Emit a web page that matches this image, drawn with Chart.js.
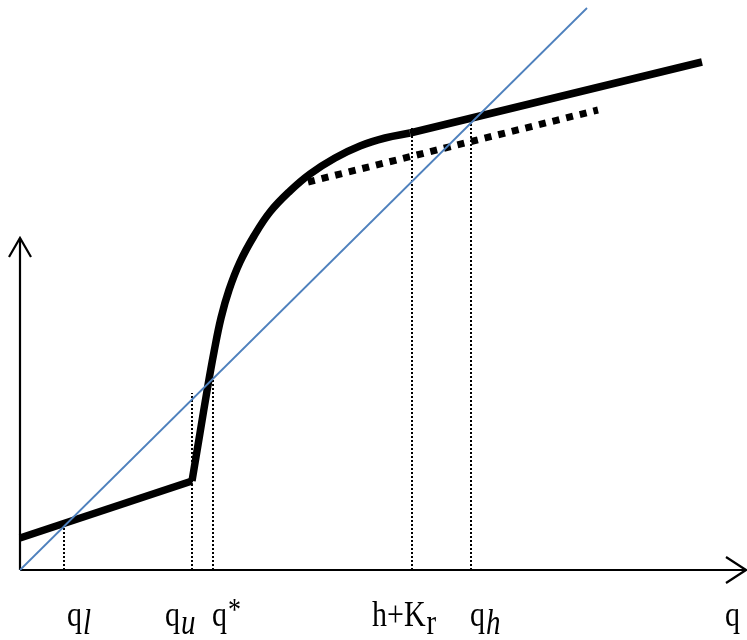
<!DOCTYPE html>
<html lang="en">
<head>
    <meta charset="UTF-8">
    <title>Fixed points diagram</title>
    <script src="https://cdn.jsdelivr.net/npm/chart.js"></script>
    <style>
        body {
            margin: 0;
            padding: 0;
            background-color: #ffffff;
        }
        #chart {
            display: block;
        }
    </style>
</head>
<body>
    <canvas id="chart" width="747" height="640"></canvas>
    <script>
        // axis extents
        const axisX = [0, 727];
        const axisY = [0, 332];

        // 45 degree line
        const diagX = [0, 567];
        const diagY = [0, 562];

        // black curve: low straight part, steep curved part, high straight part
        const lowX = [0, 172];
        const lowY = [32, 89];
        const curveX = [172, 180, 187, 194, 201, 209, 220, 234, 250, 270, 290, 315, 340, 365, 390];
        const curveY = [89, 137, 179, 218, 252, 280, 308, 334, 358, 379, 396, 412, 424, 432, 437];
        const highX = [390, 682];
        const highY = [437, 508];

        // thick dotted line
        const dotX = [288, 578];
        const dotY = [388, 460];

        // thin dotted guides down to the q axis
        const guideX = [44, 172, 193, 392, 451];
        const guideTop = [44, 177, 193, 442, 447];

        // labels under the axis
        const tickText = ['q', 'q', 'q', 'h+K', 'q', 'q'];
        const tickSub = ['l', 'u', '', 'r', 'h', ''];
        const tickSup = ['', '', '*', '', '', ''];
        const tickAt = [47, 145, 192, 352, 450, 705];

        const toPts = (xs, ys) => xs.map((x, i) => ({ x: x, y: ys[i] }));

        const datasets = [];
        datasets.push({
            data: toPts(diagX, diagY),
            borderColor: '#4f81bd',
            borderWidth: 1.8
        });
        guideX.forEach((gx, i) => {
            datasets.push({
                data: [{ x: gx, y: 0 }, { x: gx, y: guideTop[i] }],
                borderColor: '#000',
                borderWidth: 2,
                borderDash: [2, 2]
            });
        });
        datasets.push({
            data: toPts(dotX, dotY),
            borderColor: '#000',
            borderWidth: 7,
            borderDash: [7, 7]
        });
        datasets.push({
            data: toPts(lowX, lowY),
            borderColor: '#000',
            borderWidth: 7.5
        });
        datasets.push({
            data: toPts(curveX, curveY),
            borderColor: '#000',
            borderWidth: 7.5,
            tension: 0.4
        });
        datasets.push({
            data: toPts(highX, highY),
            borderColor: '#000',
            borderWidth: 7.5
        });
        datasets.forEach(d => {
            d.showLine = true;
            d.pointRadius = 0;
            d.clip = false;
            d.borderCapStyle = 'butt';
            d.borderJoinStyle = 'round';
        });

        const axesPlugin = {
            id: 'axes',
            beforeDatasetsDraw(chart) {
                const ctx = chart.ctx;
                const xs = chart.scales.x, ys = chart.scales.y;
                const ox = xs.getPixelForValue(0), oy = ys.getPixelForValue(0);
                const tx = xs.getPixelForValue(axisX[1]);
                const ty = ys.getPixelForValue(axisY[1]);
                ctx.save();
                ctx.strokeStyle = '#000';
                ctx.lineWidth = 2.2;
                ctx.beginPath();
                ctx.moveTo(ox, oy);
                ctx.lineTo(tx - 1, oy);
                ctx.moveTo(ox, oy);
                ctx.lineTo(ox, ty);
                ctx.stroke();
                ctx.beginPath();
                ctx.moveTo(tx - 21, oy - 13);
                ctx.lineTo(tx - 1, oy);
                ctx.lineTo(tx - 21, oy + 13);
                ctx.moveTo(ox - 11, ty + 19);
                ctx.lineTo(ox, ty);
                ctx.lineTo(ox + 11, ty + 19);
                ctx.stroke();
                ctx.restore();
            },
            afterDraw(chart) {
                const ctx = chart.ctx;
                const xs = chart.scales.x;
                const base = 626;
                ctx.save();
                ctx.fillStyle = '#000';
                ctx.textBaseline = 'alphabetic';
                tickText.forEach((t, i) => {
                    let x = xs.getPixelForValue(tickAt[i]);
                    ctx.save();
                    ctx.translate(x, base);
                    ctx.scale(1, 1.2);
                    ctx.font = '30px "Liberation Serif"';
                    ctx.fillText(t, 0, 0);
                    let w = ctx.measureText(t).width;
                    if (tickSub[i]) {
                        const italic = tickSub[i] !== 'r';
                        ctx.font = (italic ? 'italic ' : '') + '29px "Liberation Serif"';
                        ctx.fillText(tickSub[i], w + 1, 7);
                    }
                    if (tickSup[i]) {
                        ctx.font = '26px "Liberation Serif"';
                        ctx.fillText(tickSup[i], w + 1, -5);
                    }
                    ctx.restore();
                });
                ctx.restore();
            }
        };

        new Chart(document.getElementById('chart'), {
            type: 'scatter',
            data: { datasets: datasets },
            options: {
                responsive: false,
                animation: false,
                devicePixelRatio: 1,
                layout: { padding: { left: 20, right: 0, top: 0, bottom: 70 } },
                plugins: {
                    legend: { display: false },
                    tooltip: { enabled: false }
                },
                scales: {
                    x: { type: 'linear', min: 0, max: 727, display: false },
                    y: { type: 'linear', min: 0, max: 570, display: false }
                }
            },
            plugins: [axesPlugin]
        });
    </script>
</body>
</html>
